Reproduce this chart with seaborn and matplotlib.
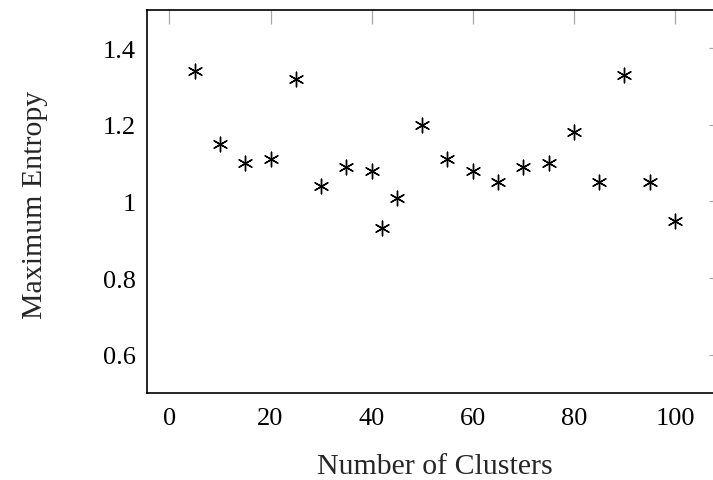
import matplotlib
matplotlib.use("Agg")
import matplotlib.pyplot as plt
import seaborn as sns
import pandas as pd

clusters = [5, 10, 15, 20, 25, 30, 35, 40, 42, 45, 50, 55, 60, 65, 70, 75, 80, 85, 90, 95, 100]
max_entropy = [1.34, 1.15, 1.10, 1.11, 1.32, 1.04, 1.09, 1.08, 0.93, 1.01, 1.20, 1.11,
               1.08, 1.05, 1.09, 1.10, 1.18, 1.05, 1.33, 1.05, 0.95]
x_ticks = [0, 20, 40, 60, 80, 100]
y_ticks = [0.6, 0.8, 1.0, 1.2, 1.4]
y_tick_labels = ["0.6", "0.8", "1", "1.2", "1.4"]

sns.set_theme(style="white")
plt.rcParams['font.family'] = ['Liberation Serif', 'DejaVu Serif']
plt.rcParams['font.size'] = 19

df = pd.DataFrame({"clusters": clusters, "entropy": max_entropy})

fig = plt.figure(figsize=(7.13, 4.81), dpi=100)
ax = fig.add_axes([146.7 / 713, 1 - 394 / 481, (723 - 146.7) / 713, (394 - 10.7) / 481])

sns.scatterplot(data=df, x="clusters", y="entropy", ax=ax, marker=(6, 2, 0), s=110,
                color="black", edgecolor="black", linewidth=1.0, legend=False)

ax.set_xlim(-4.5, 109.5)
ax.set_ylim(0.5, 1.5)
ax.set_xticks(x_ticks)
ax.set_yticks(y_ticks)
ax.set_yticklabels(y_tick_labels)
ax.tick_params(axis="both", which="both", direction="in", length=10, width=0.9,
               color="#a8a8a8", top=True, right=True, labelsize=19,
               labelcolor="black")
ax.tick_params(axis="x", pad=10)
ax.tick_params(axis="y", pad=8)
for sp in ax.spines.values():
    sp.set_color("black")
    sp.set_linewidth(1.2)

ax.set_xlabel("Number of Clusters", fontsize=21.5)
ax.set_ylabel("Maximum Entropy", fontsize=21.5)
ax.xaxis.set_label_coords(0.5, -0.157)
ax.yaxis.set_label_coords(-0.171, 0.493)

fig.savefig("out.png", dpi=100)
